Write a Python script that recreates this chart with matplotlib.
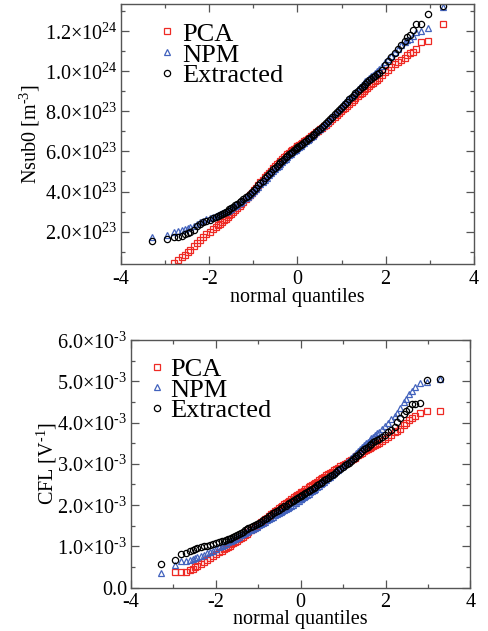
import numpy as np
import matplotlib
matplotlib.use("Agg")
import matplotlib.pyplot as plt
from matplotlib.ticker import FixedLocator, MultipleLocator, FuncFormatter
from statistics import NormalDist

plt.rcParams['font.family'] = ['Liberation Serif', 'DejaVu Serif']
plt.rcParams['mathtext.fontset'] = 'custom'
plt.rcParams['mathtext.rm'] = 'Liberation Serif'
plt.rcParams['axes.unicode_minus'] = False

#sample size and the ranks that are shown (tails in full, middle thinned)
nSample = 1000
ranksLeft = [1, 2, 3, 4, 5, 6, 7, 8, 10, 12, 14, 17, 20, 24, 28, 33, 36, 40, 44, 48,
             52, 57, 62, 67, 73, 80, 87, 95, 102, 110, 120, 130, 140, 150, 162, 175, 187, 200,
             215, 230, 245, 260, 275, 290, 305, 320, 335, 350, 365, 380, 395, 410, 425, 440,
             455, 470, 485, 500]
ranks = ranksLeft + [nSample + 1 - r for r in ranksLeft[::-1]]

labels = ['PCA', 'NPM', 'Extracted']

#sorted Nsub0 values, in units of 1e23 m^-3
nsubPCA = [0.0, 0.15, 0.42, 0.6, 0.75, 0.85, 0.98, 1.08, 1.3, 1.45, 1.6, 1.75, 1.88, 2.0, 2.12, 2.25,
           2.32, 2.4, 2.48, 2.56, 2.64, 2.72, 2.81, 2.9, 2.99, 3.08, 3.19, 3.3, 3.4, 3.5, 3.62, 3.73,
           3.84, 3.95, 4.08, 4.2, 4.33, 4.45, 4.58, 4.7, 4.82, 4.93, 5.04, 5.15, 5.25, 5.35, 5.44,
           5.53, 5.62, 5.7, 5.78, 5.85, 5.93, 6.0, 6.06, 6.12, 6.19, 6.25,
           6.27, 6.32, 6.37, 6.43, 6.5, 6.56, 6.62, 6.68, 6.75, 6.81, 6.88, 6.95, 7.02, 7.1, 7.17,
           7.25, 7.33, 7.42, 7.5, 7.6, 7.7, 7.8, 7.9, 8.0, 8.1, 8.19, 8.28, 8.38, 8.48, 8.56, 8.65,
           8.75, 8.85, 8.93, 9.02, 9.1, 9.18, 9.27, 9.35, 9.42, 9.5, 9.58,
           9.65, 9.8, 9.95, 10.08, 10.2, 10.35, 10.45, 10.58, 10.67, 10.83, 10.92, 10.98, 11.12,
           11.45, 11.53, 12.37]
nsubNPM = [1.75, 1.83, 2.0, 2.05, 2.08, 2.12, 2.18, 2.22, 2.3, 2.4, 2.48, 2.55, 2.62, 2.68, 2.74, 2.8,
           2.84, 2.88, 2.92, 2.96, 3.0, 3.05, 3.1, 3.14, 3.21, 3.28, 3.35, 3.42, 3.5, 3.57, 3.66,
           3.75, 3.84, 3.93, 4.03, 4.14, 4.25, 4.36, 4.47, 4.58, 4.69, 4.8, 4.91, 5.02, 5.11, 5.2,
           5.29, 5.38, 5.47, 5.56, 5.64, 5.72, 5.8, 5.88, 5.95, 6.02, 6.09, 6.15,
           6.17, 6.22, 6.28, 6.35, 6.42, 6.5, 6.57, 6.63, 6.7, 6.78, 6.87, 6.96, 7.05, 7.14, 7.23,
           7.33, 7.43, 7.54, 7.65, 7.78, 7.9, 8.02, 8.13, 8.24, 8.35, 8.45, 8.55, 8.66, 8.78, 8.88,
           8.98, 9.09, 9.2, 9.3, 9.4, 9.49, 9.58, 9.66, 9.75, 9.83, 9.92, 10.01,
           10.1, 10.28, 10.45, 10.6, 10.75, 10.95, 11.1, 11.3, 11.45, 11.55, 11.62, 11.78, 11.97,
           12.0, 12.17, 13.2]
nsubExt = [1.55, 1.62, 1.75, 1.75, 1.78, 1.9, 1.95, 2.0, 2.1, 2.28, 2.38, 2.47, 2.53, 2.6, 2.68, 2.75,
           2.79, 2.83, 2.87, 2.92, 2.98, 3.05, 3.11, 3.18, 3.25, 3.33, 3.4, 3.48, 3.55, 3.63, 3.71,
           3.8, 3.89, 3.98, 4.09, 4.2, 4.31, 4.42, 4.53, 4.65, 4.76, 4.88, 4.99, 5.1, 5.19, 5.28,
           5.36, 5.45, 5.53, 5.62, 5.7, 5.78, 5.85, 5.92, 5.98, 6.05, 6.11, 6.18,
           6.2, 6.25, 6.3, 6.38, 6.45, 6.52, 6.6, 6.66, 6.72, 6.8, 6.88, 6.96, 7.05, 7.13, 7.22,
           7.31, 7.4, 7.5, 7.6, 7.72, 7.85, 7.96, 8.08, 8.18, 8.28, 8.38, 8.48, 8.59, 8.7, 8.8,
           8.9, 9.0, 9.1, 9.19, 9.28, 9.36, 9.45, 9.54, 9.62, 9.7, 9.78, 9.84,
           9.9, 10.05, 10.3, 10.5, 10.7, 10.9, 11.1, 11.3, 11.5, 11.7, 11.83, 12.05, 12.33, 12.33,
           12.83, 13.25]

#sorted CFL values, in units of 1e-3 V^-1
cflPCA = [-0.15, 0.37, 0.38, 0.39, 0.42, 0.46, 0.5, 0.53, 0.58, 0.63, 0.68, 0.73, 0.78, 0.82, 0.86, 0.9,
          0.93, 0.96, 0.99, 1.02, 1.05, 1.08, 1.11, 1.14, 1.17, 1.2, 1.24, 1.28, 1.31, 1.35, 1.39,
          1.43, 1.46, 1.5, 1.54, 1.58, 1.62, 1.66, 1.7, 1.74, 1.78, 1.82, 1.85, 1.89, 1.92, 1.96,
          1.99, 2.02, 2.05, 2.08, 2.11, 2.14, 2.16, 2.19, 2.22, 2.25, 2.27, 2.3,
          2.31, 2.33, 2.35, 2.38, 2.4, 2.43, 2.46, 2.48, 2.51, 2.54, 2.57, 2.6, 2.63, 2.66, 2.69,
          2.72, 2.75, 2.78, 2.81, 2.85, 2.88, 2.91, 2.94, 2.97, 3.0, 3.03, 3.06, 3.09, 3.12, 3.15,
          3.18, 3.21, 3.24, 3.27, 3.3, 3.33, 3.35, 3.38, 3.4, 3.43, 3.45, 3.48,
          3.5, 3.55, 3.6, 3.65, 3.7, 3.76, 3.8, 3.84, 3.95, 4.0, 4.06, 4.1, 4.16, 4.22, 4.28, 4.29]
cflNPM = [0.35, 0.56, 0.64, 0.65, 0.67, 0.7, 0.73, 0.75, 0.77, 0.8, 0.83, 0.87, 0.9, 0.94, 0.98, 1.02,
          1.04, 1.07, 1.1, 1.12, 1.14, 1.16, 1.18, 1.21, 1.24, 1.27, 1.3, 1.33, 1.35, 1.38, 1.4,
          1.43, 1.45, 1.48, 1.51, 1.54, 1.57, 1.6, 1.63, 1.66, 1.69, 1.72, 1.75, 1.78, 1.81, 1.84,
          1.86, 1.89, 1.91, 1.94, 1.96, 1.99, 2.01, 2.04, 2.06, 2.09, 2.11, 2.14,
          2.15, 2.17, 2.2, 2.22, 2.25, 2.28, 2.31, 2.34, 2.37, 2.4, 2.43, 2.46, 2.5, 2.53, 2.57,
          2.61, 2.65, 2.69, 2.73, 2.77, 2.82, 2.86, 2.91, 2.95, 3.0, 3.04, 3.08, 3.13, 3.18, 3.22,
          3.27, 3.32, 3.37, 3.41, 3.46, 3.5, 3.54, 3.58, 3.62, 3.66, 3.7, 3.74,
          3.78, 3.85, 3.92, 4.0, 4.08, 4.16, 4.22, 4.35, 4.5, 4.58, 4.68, 4.76, 4.87, 4.95, 4.98, 5.05]
cflExt = [0.57, 0.68, 0.81, 0.85, 0.89, 0.92, 0.94, 0.96, 0.98, 1.0, 1.02, 1.04, 1.06, 1.08, 1.1, 1.12,
          1.13, 1.15, 1.17, 1.19, 1.21, 1.23, 1.25, 1.28, 1.3, 1.33, 1.36, 1.39, 1.41, 1.44, 1.46,
          1.49, 1.51, 1.54, 1.57, 1.6, 1.63, 1.66, 1.69, 1.73, 1.76, 1.8, 1.83, 1.86, 1.89, 1.92,
          1.94, 1.97, 1.99, 2.02, 2.04, 2.07, 2.09, 2.12, 2.14, 2.17, 2.19, 2.22,
          2.23, 2.25, 2.27, 2.3, 2.32, 2.34, 2.37, 2.4, 2.42, 2.45, 2.48, 2.51, 2.54, 2.57, 2.6,
          2.63, 2.66, 2.7, 2.73, 2.76, 2.8, 2.84, 2.88, 2.92, 2.96, 3.0, 3.03, 3.07, 3.11, 3.15,
          3.18, 3.22, 3.27, 3.31, 3.35, 3.38, 3.42, 3.46, 3.49, 3.52, 3.55, 3.58,
          3.6, 3.65, 3.7, 3.76, 3.82, 3.9, 4.02, 4.12, 4.2, 4.28, 4.34, 4.45, 4.46, 4.48, 5.04, 5.06]

yTicksNsub = [2e23, 4e23, 6e23, 8e23, 1.0e24, 1.2e24]
yTicksCFL = [0.0, 1e-3, 2e-3, 3e-3, 4e-3, 5e-3, 6e-3]

colors = ['#ee2a24', '#4262bd', 'black']
markers = ['s', '^', 'o']
msizes = [3.8, 4.5, 4.5]


#theoretical normal quantiles for the chosen ranks
def normalQuantiles(ranks, n):
    nd = NormalDist()
    return np.array([nd.inv_cdf((r - 0.5) / n) for r in ranks])


#tick label like 1.2x10^24
def sciLabel(v, pos):
    if v == 0:
        return '0.0'
    e = int(np.floor(np.log10(abs(v)) + 1e-9))
    m = v / 10.0**e
    return '%.1f\u00d710$^{\\text{%d}}$' % (m, e)


def styleAxis(ax, yticks, yminor, xpad, xlabelpad):
    for s in ax.spines.values():
        s.set_color('#555555')
        s.set_linewidth(1.0)
    ax.set_xlim(-4, 4)
    ax.xaxis.set_major_locator(MultipleLocator(2))
    ax.xaxis.set_minor_locator(MultipleLocator(1))
    ax.yaxis.set_major_locator(FixedLocator(yticks))
    ax.yaxis.set_minor_locator(MultipleLocator(yminor))
    ax.yaxis.set_major_formatter(FuncFormatter(sciLabel))
    ax.tick_params(which='both', direction='in', top=True, right=True, color='#555555',
                   labelsize=14.5, pad=xpad)
    ax.tick_params(axis='y', pad=2.5)
    ax.tick_params(which='major', length=5.5, width=0.9)
    ax.tick_params(which='minor', length=3.0, width=0.9)
    ax.set_xlabel('normal quantiles', fontsize=14.5, labelpad=xlabelpad)


def qqPanel(ax, seriesList, scale):
    xq = normalQuantiles(ranks, nSample)
    for i in range(len(seriesList)):
        ax.plot(xq, np.array(seriesList[i]) * scale, ls='none', marker=markers[i], mfc='none',
                mec=colors[i], ms=msizes[i], mew=0.9, label=labels[i])


fig = plt.figure(figsize=(4.88, 6.31), dpi=100)

#top panel: Nsub0
ax1 = fig.add_axes([0.248, 0.5816, 0.723, 0.412])
qqPanel(ax1, [nsubPCA, nsubNPM, nsubExt], 1e23)
styleAxis(ax1, yTicksNsub, 1e23, 4.5, -1.0)
ax1.set_ylim(0.385e23, 1.335e24)
ax1.set_ylabel('Nsub0 [m$^{\\text{-3}}$]', fontsize=14.5, labelpad=2)
ax1.legend(loc='upper left', bbox_to_anchor=(0.107, 0.93), frameon=False, fontsize=19,
           handlelength=0.6, handletextpad=0.3, labelspacing=-0.1, borderpad=0, borderaxespad=0)

#bottom panel: CFL
ax2 = fig.add_axes([0.268, 0.0686, 0.696, 0.3926])
qqPanel(ax2, [cflPCA, cflNPM, cflExt], 1e-3)
styleAxis(ax2, yTicksCFL, 0.5e-3, 3.5, -0.8)
ax2.set_ylim(0, 6e-3)
ax2.set_ylabel('CFL [V$^{\\text{-1}}$]', fontsize=14.5, labelpad=-1)
ax2.legend(loc='upper left', bbox_to_anchor=(0.055, 0.93), frameon=False, fontsize=19,
           handlelength=0.6, handletextpad=0.2, labelspacing=-0.1, borderpad=0, borderaxespad=0)

plt.savefig('out.png', dpi=100)
